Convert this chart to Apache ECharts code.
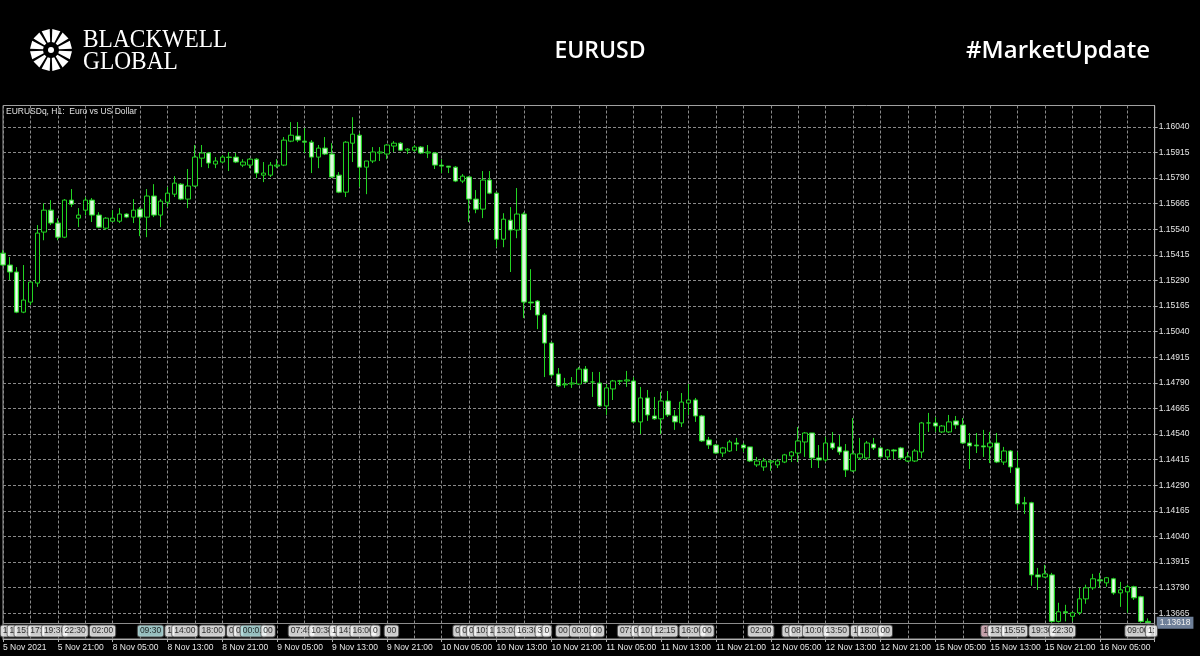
<!DOCTYPE html>
<html><head><meta charset="utf-8">
<script src="https://cdn.jsdelivr.net/npm/echarts@6/dist/echarts.min.js"></script>
<style>html,body{margin:0;padding:0;background:#000;}#c{width:1200px;height:656px;}</style>
</head><body><div id="c"></div><script>
// ---- data ----
const tradingDays = [['5 Nov',13,23],['8 Nov',0,23],['9 Nov',0,23],['10 Nov',0,23],['11 Nov',0,23],['12 Nov',0,23],['15 Nov',0,23],['16 Nov',0,12]];
const opens = [1.15423,1.15365,1.15331,1.15135,1.15184,1.15277,1.15526,1.15633,1.15570,1.15501,
1.15682,1.15594,1.15633,1.15682,1.15609,1.15545,1.15579,1.15579,1.15614,1.15599,
1.15638,1.15599,1.15702,1.15609,1.15672,1.15711,1.15760,1.15687,1.15751,1.15887,
1.15912,1.15858,1.15868,1.15892,1.15892,1.15853,1.15853,1.15882,1.15804,1.15804,
1.15848,1.15853,1.15970,1.15995,1.15970,1.15965,1.15892,1.15936,1.15907,1.15804,
1.15721,1.15960,1.15999,1.15843,1.15873,1.15912,1.15907,1.15946,1.15960,1.15926,
1.15926,1.15941,1.15912,1.15912,1.15853,1.15848,1.15843,1.15775,1.15795,1.15687,
1.15638,1.15780,1.15716,1.15491,1.15584,1.15536,1.15614,1.15184,1.15189,1.15121,
1.14984,1.14833,1.14780,1.14784,1.14784,1.14857,1.14794,1.14789,1.14677,1.14760,
1.14799,1.14799,1.14799,1.14599,1.14716,1.14628,1.14614,1.14701,1.14628,1.14594,
1.14691,1.14706,1.14628,1.14511,1.14486,1.14447,1.14457,1.14496,1.14486,1.14477,
1.14389,1.14379,1.14403,1.14389,1.14403,1.14433,1.14447,1.14501,1.14545,1.14423,
1.14413,1.14496,1.14477,1.14457,1.14360,1.14423,1.14423,1.14491,1.14472,1.14428,
1.14462,1.14472,1.14408,1.14408,1.14452,1.14594,1.14594,1.14550,1.14550,1.14604,
1.14584,1.14496,1.14486,1.14482,1.14477,1.14496,1.14403,1.14457,1.14374,1.14204,
1.14204,1.13852,1.13842,1.13852,1.13625,1.13672,1.13650,1.13667,1.13735,1.13789,
1.13828,1.13813,1.13833,1.13764,1.13769,1.13794,1.13745,1.13625];
const closes = [1.15365,1.15331,1.15135,1.15194,1.15282,1.15521,1.15633,1.15570,1.15501,1.15682,
1.15662,1.15609,1.15682,1.15609,1.15550,1.15594,1.15594,1.15614,1.15599,1.15633,
1.15599,1.15702,1.15609,1.15677,1.15716,1.15765,1.15687,1.15751,1.15892,1.15912,
1.15863,1.15873,1.15892,1.15890,1.15868,1.15868,1.15882,1.15814,1.15814,1.15853,
1.15853,1.15975,1.15999,1.15975,1.15965,1.15892,1.15936,1.15907,1.15795,1.15721,
1.15965,1.16004,1.15843,1.15873,1.15917,1.15917,1.15951,1.15960,1.15926,1.15931,
1.15941,1.15912,1.15917,1.15853,1.15848,1.15843,1.15775,1.15799,1.15687,1.15638,
1.15780,1.15716,1.15491,1.15589,1.15536,1.15614,1.15184,1.15180,1.15121,1.14984,
1.14828,1.14775,1.14784,1.14789,1.14857,1.14794,1.14794,1.14677,1.14765,1.14799,
1.14799,1.14804,1.14599,1.14716,1.14633,1.14614,1.14701,1.14633,1.14599,1.14696,
1.14706,1.14628,1.14506,1.14486,1.14447,1.14472,1.14501,1.14491,1.14472,1.14408,
1.14408,1.14408,1.14408,1.14408,1.14438,1.14452,1.14506,1.14545,1.14423,1.14413,
1.14496,1.14472,1.14452,1.14364,1.14443,1.14443,1.14496,1.14472,1.14428,1.14462,
1.14457,1.14423,1.14428,1.14457,1.14594,1.14594,1.14579,1.14579,1.14599,1.14584,
1.14496,1.14482,1.14482,1.14477,1.14496,1.14403,1.14457,1.14379,1.14199,1.14199,
1.13852,1.13842,1.13857,1.13625,1.13672,1.13667,1.13667,1.13735,1.13789,1.13833,
1.13823,1.13838,1.13764,1.13779,1.13794,1.13740,1.13625,1.13618];
const lows = [1.15360,1.15292,1.15130,1.15130,1.15170,1.15258,1.15486,1.15560,1.15486,1.15496,
1.15648,1.15550,1.15609,1.15575,1.15545,1.15536,1.15575,1.15570,1.15594,1.15570,
1.15506,1.15501,1.15599,1.15550,1.15648,1.15697,1.15682,1.15643,1.15746,1.15843,
1.15838,1.15838,1.15863,1.15824,1.15863,1.15843,1.15838,1.15790,1.15770,1.15795,
1.15838,1.15848,1.15965,1.15965,1.15912,1.15814,1.15838,1.15902,1.15790,1.15716,
1.15697,1.15868,1.15746,1.15711,1.15863,1.15873,1.15882,1.15917,1.15921,1.15907,
1.15917,1.15907,1.15887,1.15834,1.15814,1.15814,1.15770,1.15765,1.15575,1.15618,
1.15594,1.15711,1.15452,1.15452,1.15331,1.15496,1.15106,1.15145,1.15052,1.14818,
1.14818,1.14770,1.14765,1.14765,1.14779,1.14789,1.14721,1.14672,1.14633,1.14706,
1.14779,1.14770,1.14594,1.14540,1.14604,1.14609,1.14540,1.14623,1.14560,1.14574,
1.14633,1.14599,1.14501,1.14467,1.14443,1.14428,1.14452,1.14457,1.14452,1.14403,
1.14379,1.14360,1.14360,1.14374,1.14398,1.14403,1.14403,1.14428,1.14374,1.14374,
1.14403,1.14462,1.14438,1.14330,1.14355,1.14413,1.14413,1.14462,1.14423,1.14413,
1.14418,1.14413,1.14403,1.14403,1.14423,1.14550,1.14550,1.14545,1.14545,1.14565,
1.14491,1.14369,1.14447,1.14428,1.14398,1.14398,1.14389,1.14350,1.14169,1.14150,
1.13799,1.13779,1.13838,1.13618,1.13620,1.13625,1.13625,1.13657,1.13711,1.13779,
1.13789,1.13794,1.13755,1.13696,1.13667,1.13730,1.13618,1.13618];
const highs = [1.15438,1.15404,1.15355,1.15365,1.15282,1.15560,1.15667,1.15682,1.15594,1.15687,
1.15736,1.15643,1.15697,1.15692,1.15623,1.15599,1.15633,1.15643,1.15618,1.15687,
1.15648,1.15736,1.15760,1.15687,1.15746,1.15799,1.15765,1.15834,1.15951,1.15951,
1.15917,1.15892,1.15902,1.15917,1.15912,1.15882,1.15887,1.15887,1.15868,1.15868,
1.15882,1.15990,1.16063,1.16063,1.16034,1.15975,1.15951,1.15990,1.15960,1.15819,
1.15970,1.16087,1.16009,1.15873,1.15941,1.15941,1.15955,1.15970,1.15965,1.15936,
1.15951,1.15946,1.15951,1.15917,1.15882,1.15848,1.15848,1.15809,1.15799,1.15731,
1.15824,1.15824,1.15721,1.15618,1.15648,1.15741,1.15623,1.15345,1.15194,1.15130,
1.14989,1.14862,1.14814,1.14818,1.14867,1.14872,1.14843,1.14843,1.14784,1.14804,
1.14804,1.14848,1.14818,1.14770,1.14755,1.14721,1.14745,1.14750,1.14657,1.14740,
1.14784,1.14716,1.14633,1.14526,1.14491,1.14477,1.14511,1.14521,1.14496,1.14477,
1.14428,1.14423,1.14413,1.14418,1.14443,1.14457,1.14574,1.14550,1.14545,1.14486,
1.14526,1.14550,1.14535,1.14491,1.14618,1.14521,1.14506,1.14521,1.14477,1.14467,
1.14467,1.14477,1.14452,1.14467,1.14599,1.14643,1.14623,1.14584,1.14633,1.14628,
1.14618,1.14545,1.14545,1.14560,1.14550,1.14545,1.14477,1.14462,1.14452,1.14233,
1.14209,1.13886,1.13901,1.13862,1.13716,1.13706,1.13672,1.13789,1.13804,1.13857,
1.13862,1.13842,1.13838,1.13818,1.13804,1.13799,1.13750,1.13640];
const priceTicks = [1.13665,1.13790,1.13915,1.14040,1.14165,1.14290,1.14415,1.14540,1.14665,1.14790,
1.14915,1.15040,1.15165,1.15290,1.15415,1.15540,1.15665,1.15790,1.15915,1.16040];
const bidPrice = 1.13618;
const eventBars = [0,1,2,4,6,9,13,20,24,25,29,33,34,35,38,42,45,48,49,51,54,56,66,67,68,69,71,72,75,78,79,81,83,86,90,92,93,95,99,102,109,114,115,117,120,124,125,128,143,144,146,150,153,164,167];
const eventTexts = ['1','1','15:','17:','19:30','22:30','02:00','09:30','1','14:00','18:00','0','0','00:01','00','07:45','10:38','1','14:','16:00','0','00','0','0','0','10:','1','13:03','16:30','30','0','00','00:01','00','07:','0','10:','12:15','16:00','00','02:00','0','08','10:00','13:50','1','18:00','00','1','13:','15:55','19:30','22:30','09:00','1:'];
const eventKinds = ['w','w','w','w','w','w','w','c','w','w','w','w','w','c','w','w','w','w','w','w','w','w','w','w','w','w','w','w','w','w','w','w','w','w','w','w','w','w','w','w','w','w','w','w','w','w','w','w','p','w','w','w','w','w','w'];

// ---- build ----
const cats = [];
tradingDays.forEach(([d,h0,h1]) => { for (let h=h0; h<=h1; h++) cats.push(d + ' ' + String(h).padStart(2,'0') + ':00'); });
cats.push('');
const lastIdx = cats.length - 1;
const candles = opens.map((o,i)=>[o, closes[i], lows[i], highs[i]]);
const kindBg = {w:'#ffffff', c:'#bdeeee', p:'#f4c6d2'};
const events = eventBars.map((b,i)=>({value:[b,0.5], name:eventTexts[i], label:{backgroundColor:kindBg[eventKinds[i]]}}));

const chart = echarts.init(document.getElementById('c'), null, {renderer:'canvas'});
const green = '#22d422';
const bearFill = new echarts.graphic.LinearGradient(0,0,1,0,[{offset:0,color:'#6fe06f'},{offset:0.5,color:'#f4fff4'},{offset:1,color:'#6fe06f'}]);
const grid0 = {left:2.7, right:45.3, top:105.5, height:533.5};

// logo spokes
const logo = [];
const cx = 51, cy = 50;
for (let k=0;k<12;k++){
  const a = k*Math.PI/6 + Math.PI/12;
  const pts = [[8,0.16],[21,0.2],[21,-0.2],[8,-0.16]].map(([r,da])=>[cx+r*Math.cos(a+da), cy+r*Math.sin(a+da)]);
  logo.push({type:'polygon', shape:{points:pts}, style:{fill:'#fff'}, silent:true});
}
logo.push({type:'circle', shape:{cx:cx, cy:cy, r:3}, style:{fill:'#fff'}, silent:true});

chart.setOption({
  animation:false,
  backgroundColor:'#000',
  grid:[Object.assign({show:true, borderColor:'#a0a0a0', borderWidth:1, backgroundColor:'#000'}, grid0),
        {left:2.7, right:45.3, top:624, height:14}],
  xAxis:[{type:'category', gridIndex:0, data:cats, boundaryGap:false,
          axisLine:{show:true, lineStyle:{color:'#b0b0b0'}},
          axisTick:{show:true, interval:7, length:3, lineStyle:{color:'#b0b0b0'}},
          axisLabel:{show:true, interval:7, align:'left', margin:4, color:'#e6e6e6', fontSize:8.5, fontFamily:'Liberation Sans',
                     formatter:(v,i)=> i===0 ? '5 Nov 2021' : v},
          splitLine:{show:true, interval:3, lineStyle:{color:'#8a8a8a', type:[3,2], width:1}}},
         {type:'category', gridIndex:1, data:cats, boundaryGap:false, show:false}],
  yAxis:[{type:'value', gridIndex:0, position:'right', min:1.13539, max:1.16144,
          axisLine:{show:true, lineStyle:{color:'#b0b0b0'}},
          axisTick:{show:true, length:3, customValues:priceTicks, lineStyle:{color:'#b0b0b0'}},
          axisLabel:{customValues:priceTicks, formatter:v=>v.toFixed(5), color:'#e6e6e6', fontSize:8.5, margin:4, fontFamily:'Liberation Sans'},
          splitLine:{show:true, lineStyle:{color:'#8a8a8a', type:[3,2], width:1}}},
         {type:'value', gridIndex:1, min:0, max:1, show:false}],
  series:[
    {type:'candlestick', xAxisIndex:0, yAxisIndex:0, data:candles, barWidth:5, clip:true,
     itemStyle:{color:'#000', color0:bearFill, borderColor:green, borderColor0:green, borderWidth:1},
     markLine:{silent:true, symbol:'none', animation:false,
       data:[[{coord:[0, bidPrice]}, {coord:[lastIdx, bidPrice]}]],
       lineStyle:{color:'#8c8c8c', type:'solid', width:1},
       label:{show:true, position:'end', distance:2, formatter:bidPrice.toFixed(5), backgroundColor:'#6e7f98', color:'#f0f0f0',
              fontSize:8.5, fontFamily:'Liberation Sans', padding:[2,3,1,3]}}},
    {type:'scatter', xAxisIndex:1, yAxisIndex:1, data:events, symbolSize:0.1, z:5,
     itemStyle:{color:'transparent'},
     label:{show:true, position:'right', distance:0, offset:[-2,0], formatter:'{b}', color:'#000', fontSize:8.5,
            fontFamily:'Liberation Sans', backgroundColor:'#fff', borderColor:'#5a5a5a', borderWidth:1, borderRadius:2,
            padding:[1,2,0,2], lineHeight:10}}
  ],
  graphic:[
    ...logo,
    {type:'text', silent:true, x:83, y:40, style:{text:'BLACKWELL', fill:'#fff', font:'26px "Liberation Serif"', textAlign:'left', align:'left', textVerticalAlign:'middle', verticalAlign:'middle'}, scaleX:0.9},
    {type:'text', silent:true, x:83, y:62, style:{text:'GLOBAL', fill:'#fff', font:'26px "Liberation Serif"', textAlign:'left', align:'left', textVerticalAlign:'middle', verticalAlign:'middle'}, scaleX:0.9},
    {type:'text', silent:true, x:600, y:51, style:{text:'EURUSD', fill:'#fff', font:'600 23px "Open Sans"', textAlign:'center', align:'center', textVerticalAlign:'middle', verticalAlign:'middle'}},
    {type:'text', silent:true, x:1150, y:51, style:{text:'#MarketUpdate', fill:'#fff', font:'600 24px "Open Sans"', textAlign:'right', align:'right', textVerticalAlign:'middle', verticalAlign:'middle'}},
    {type:'text', silent:true, x:6, y:112, z:10, style:{text:'EURUSDq, H1:  Euro vs US Dollar', fill:'#e0e0e0', font:'8.5px "Liberation Sans"', textAlign:'left', align:'left', textVerticalAlign:'middle', verticalAlign:'middle'}}
  ]
});
</script></body></html>
